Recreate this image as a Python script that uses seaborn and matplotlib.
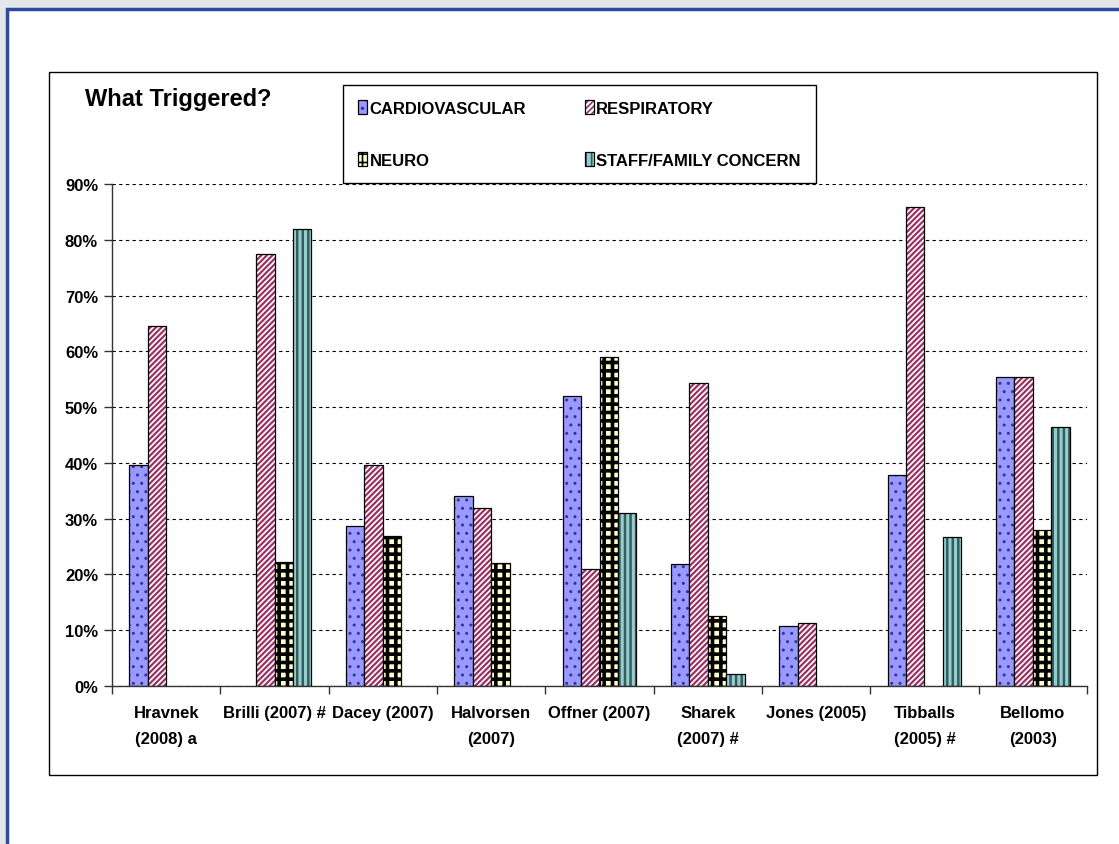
import pandas as pd
import numpy as np
import matplotlib
matplotlib.use('Agg')
import matplotlib.pyplot as plt
import matplotlib.colors as mcolors
from matplotlib.patches import Rectangle
from matplotlib.ticker import FixedLocator, PercentFormatter
import seaborn as sns

# data (fractions)
studies = ['Hravnek\n(2008) a', 'Brilli (2007) #', 'Dacey (2007)', 'Halvorsen\n(2007)',
           'Offner (2007)', 'Sharek\n(2007) #', 'Jones (2005)', 'Tibballs\n(2005) #', 'Bellomo\n(2003)']
cardio = [0.396, np.nan, 0.287, 0.341, 0.520, 0.218, 0.107, 0.379, 0.554]
resp = [0.645, 0.774, 0.397, 0.320, 0.209, 0.544, 0.113, 0.859, 0.554]
neuro = [np.nan, 0.222, 0.269, 0.220, 0.589, 0.126, np.nan, np.nan, 0.279]
staff = [np.nan, 0.819, np.nan, np.nan, 0.311, 0.021, np.nan, 0.268, 0.465]
series = ['CARDIOVASCULAR', 'RESPIRATORY', 'NEURO', 'STAFF/FAMILY CONCERN']

df = pd.DataFrame({'study': studies * 4,
                   'kind': np.repeat(series, len(studies)),
                   'value': cardio + resp + neuro + staff})

# face colour, hatch, hatch colour, hatch width per series
styles = {
    'CARDIOVASCULAR': ('#9999FF', '..', '#333399', 1.0),
    'RESPIRATORY': ('#FFFFFF', '//////', '#993366', 1.6),
    'NEURO': ('#FFFFCC', '++', '#000000', 2.6),
    'STAFF/FAMILY CONCERN': ('#99CCCC', '|||', '#2F5F5F', 1.8),
}

sns.set_style('white')
plt.rcParams['font.family'] = ['Liberation Sans Narrow', 'Liberation Sans', 'DejaVu Sans']
plt.rcParams['text.color'] = 'black'
plt.rcParams['xtick.color'] = 'black'
plt.rcParams['ytick.color'] = 'black'
plt.rcParams['hatch.linewidth'] = 1.2

W, H = 1119, 845
fig = plt.figure(figsize=(W / 100, H / 100), dpi=100, facecolor='#E6E7E9')

# outer white frame with blue border, and chart box
fig.patches.append(Rectangle((7 / W, -0.1), 1.2, (H - 10) / H + 0.1, transform=fig.transFigure,
                             facecolor='white', edgecolor='#2E4A9E', linewidth=2.5, zorder=-2))
fig.patches.append(Rectangle((49 / W, (H - 776) / H), (1097 - 49) / W, (776 - 73) / H,
                             transform=fig.transFigure, facecolor='white', edgecolor='black',
                             linewidth=1.0, zorder=-1))

ax = fig.add_axes([112 / W, (H - 687) / H, (1087 - 112) / W, (687 - 185) / H])
ax.set_facecolor('none')
ax.set_zorder(2)

sns.barplot(data=df, x='study', y='value', hue='kind', hue_order=series, order=studies,
            width=0.68, gap=0, legend=False, ax=ax, errorbar=None, saturation=1)

for cont, name in zip(ax.containers, series):
    face, hatch, hcol, hlw = styles[name]
    for p in cont.patches:
        p.set_facecolor(face)
        p.set_hatch(hatch)
        p.set_edgecolor('black')
        p.set_linewidth(0.9)
        p._hatch_color = mcolors.to_rgba(hcol)
        if hasattr(p, 'set_hatch_linewidth'):
            p.set_hatch_linewidth(hlw)
        else:
            p._hatch_linewidth = hlw
    cont.set_label(name)

ax.set_ylim(0, 0.9)
ax.set_xlim(-0.5, len(studies) - 0.5)
ax.yaxis.set_major_locator(FixedLocator(np.arange(0, 0.91, 0.1)))
ax.yaxis.set_major_formatter(PercentFormatter(1.0, decimals=0))
ax.yaxis.grid(True, linestyle=(0, (3, 3)), color='black', linewidth=0.8)
ax.set_axisbelow(True)
for s in ['top', 'right']:
    ax.spines[s].set_visible(False)
for s in ['left', 'bottom']:
    ax.spines[s].set_color('#333333')
    ax.spines[s].set_linewidth(1.0)

ax.set_xlabel('')
ax.set_ylabel('')
ax.tick_params(axis='y', length=6, width=1, color='#333333', labelcolor='black',
               labelsize=12, pad=4, left=True)
ax.tick_params(axis='x', which='major', length=0, labelsize=12, labelcolor='black', pad=14)
ax.xaxis.set_minor_locator(FixedLocator(np.arange(-0.5, len(studies), 1.0)))
ax.tick_params(axis='x', which='minor', length=6, width=1, color='#333333', bottom=True)
for lab in ax.get_yticklabels() + ax.get_xticklabels():
    lab.set_fontweight('bold')
for lab in ax.get_xticklabels():
    lab.set_linespacing(1.9)
    lab.set_verticalalignment('top')

fig.text(85 / W, 1 - 100 / H, 'What Triggered?', fontsize=17, fontweight='bold',
         color='black', va='center', ha='left')

# legend fills column-wise, so order to get CARDIO | RESP on row 1
order = [0, 2, 1, 3]
leg = ax.legend(handles=[ax.containers[i] for i in order], labels=[series[i] for i in order],
                ncol=2, loc='upper left',
                bbox_to_anchor=(343 / W, 1 - 86 / H), bbox_transform=fig.transFigure,
                frameon=True, fancybox=False, edgecolor='black', framealpha=1,
                prop={'weight': 'bold', 'size': 12}, handlelength=0.55, handleheight=0.9,
                handletextpad=0.15, labelspacing=2.2, columnspacing=3.5,
                borderpad=0.9, borderaxespad=0)
leg.get_frame().set_linewidth(1.0)
for t in leg.get_texts():
    t.set_color('black')

fig.savefig('out.png', dpi=100, facecolor=fig.get_facecolor())
